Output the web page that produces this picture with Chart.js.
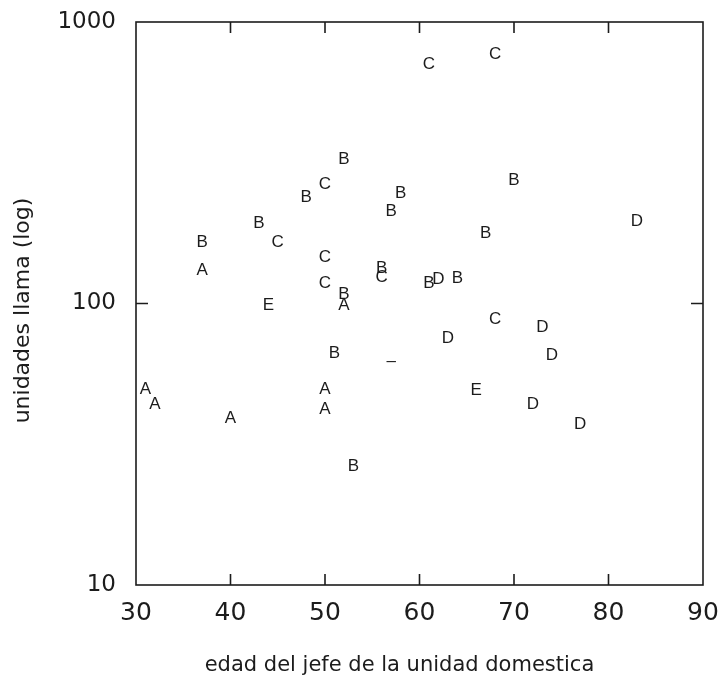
<!DOCTYPE html>
<html>
<head>
<meta charset="utf-8">
<script src="https://cdn.jsdelivr.net/npm/chart.js@4/dist/chart.umd.min.js"></script>
<style>
  html, body { margin: 0; padding: 0; background: #fff; }
  #wrap { position: relative; width: 718px; height: 677px; }
</style>
</head>
<body>
<div id="wrap"><canvas id="c" width="718" height="677"></canvas></div>
<script>
// ---- data ----
const groups = ['C','C','B','C','B','B','B','B','D','B','B','C','B','A','C','B','C','B','D','B','C','B','E','A','B','–','C','D','D','D','A','A','A','A','A','E','D','D','B'];
const ages   = [61, 68, 52, 50, 48, 58, 57, 70, 83, 43, 37, 45, 67, 37, 50, 56, 56, 61, 62, 64, 50, 52, 44, 52, 51, 57, 68, 73, 63, 74, 31, 32, 40, 50, 50, 66, 72, 77, 53];
const units  = [715, 773, 330, 268, 240, 249, 214, 276, 198, 194, 167, 167, 179, 133, 148, 135, 125, 119, 123, 124, 119, 109, 100, 100, 67, 63, 89, 83, 76, 66, 50, 44.4, 39.6, 50, 42.7, 49.5, 44.4, 37.5, 26.7];
const xTicks = [30, 40, 50, 60, 70, 80, 90];
const yTicks = [10, 100, 1000];
const xTitle = 'edad del jefe de la unidad domestica';
const yTitle = 'unidades llama (log)';

const points = ages.map((a, i) => ({ x: a, y: units[i] }));
const INK = '#1c1c1c';

const lettersPlugin = {
  id: 'letters',
  afterDatasetsDraw(chart) {
    const ctx = chart.ctx;
    const meta = chart.getDatasetMeta(0);
    ctx.save();
    ctx.fillStyle = INK;
    ctx.font = '17px "Liberation Sans", Arial, sans-serif';
    ctx.textAlign = 'center';
    ctx.textBaseline = 'alphabetic';
    meta.data.forEach((el, i) => {
      ctx.fillText(groups[i], el.x, el.y + 6);
    });
    ctx.restore();
  }
};

const framePlugin = {
  id: 'frame',
  afterDraw(chart) {
    const ctx = chart.ctx;
    const { left, right, top, bottom } = chart.chartArea;
    const xs = chart.scales.x, ys = chart.scales.y;
    ctx.save();
    ctx.strokeStyle = INK;
    ctx.lineWidth = 1.6;
    ctx.strokeRect(left, top, right - left, bottom - top);
    ctx.beginPath();
    xTicks.slice(1, -1).forEach(v => {
      const px = xs.getPixelForValue(v);
      ctx.moveTo(px, bottom); ctx.lineTo(px, bottom - 11);
      ctx.moveTo(px, top); ctx.lineTo(px, top + 11);
    });
    yTicks.slice(1, -1).forEach(v => {
      const py = ys.getPixelForValue(v);
      ctx.moveTo(left, py); ctx.lineTo(left + 12, py);
      ctx.moveTo(right, py); ctx.lineTo(right - 12, py);
    });
    ctx.stroke();
    ctx.restore();
  }
};

new Chart(document.getElementById('c'), {
  type: 'scatter',
  data: {
    datasets: [{
      data: points,
      pointRadius: 0,
      pointHoverRadius: 0,
      showLine: false
    }]
  },
  options: {
    responsive: false,
    animation: false,
    devicePixelRatio: 1,
    layout: { padding: { top: 22, right: 15, left: 0, bottom: 0 } },
    plugins: { legend: { display: false }, tooltip: { enabled: false } },
    scales: {
      x: {
        type: 'linear',
        min: 30, max: 90,
        afterBuildTicks: s => { s.ticks = xTicks.map(v => ({ value: v })); },
        afterFit: s => { s.height = 92; s.paddingLeft = 0; s.paddingRight = 0; },
        grid: { display: false, drawTicks: false },
        border: { display: false },
        ticks: {
          color: INK,
          padding: 13,
          maxRotation: 0,
          font: { family: '"DejaVu Sans", sans-serif', size: 25 },
          callback: v => String(v)
        },
        title: {
          display: true,
          text: xTitle + '      ',
          color: INK,
          padding: { top: 0, bottom: 1 },
          font: { family: '"DejaVu Sans", sans-serif', size: 21, lineHeight: 1 }
        }
      },
      y: {
        type: 'logarithmic',
        min: 10, max: 1000,
        afterBuildTicks: s => { s.ticks = yTicks.map(v => ({ value: v })); },
        afterFit: s => { s.width = 136; s.paddingTop = 0; s.paddingBottom = 0; },
        grid: { display: false, drawTicks: false },
        border: { display: false },
        ticks: {
          color: INK,
          padding: 20,
          font: { family: '"DejaVu Sans", sans-serif', size: 23 },
          callback: v => String(v)
        },
        title: {
          display: true,
          text: yTitle + '  ',
          color: INK,
          padding: { top: 12, bottom: 0 },
          font: { family: '"DejaVu Sans", sans-serif', size: 22, lineHeight: 1 }
        }
      }
    }
  },
  plugins: [lettersPlugin, framePlugin]
});
</script>
</body>
</html>
